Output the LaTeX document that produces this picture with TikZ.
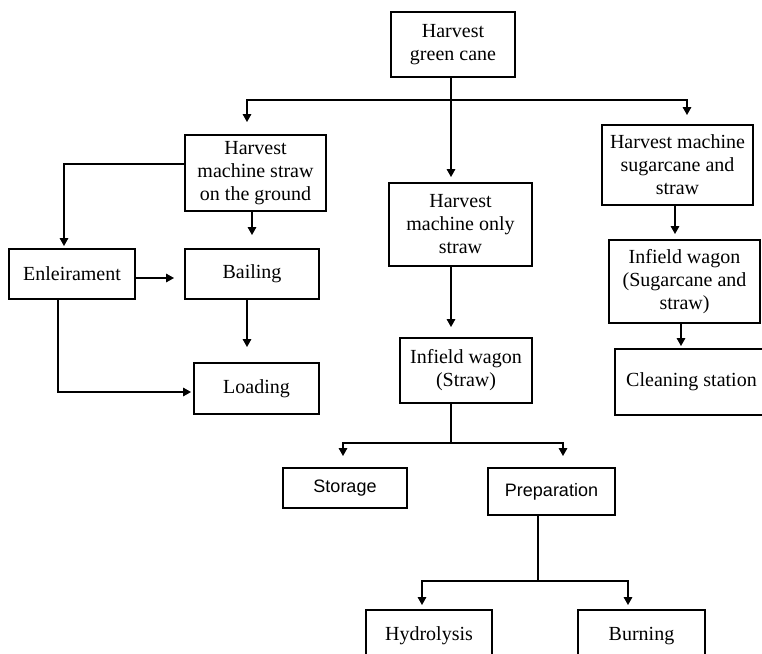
\documentclass[tikz,border=0pt]{standalone}
\usepackage{fontspec}
\setmainfont{Liberation Serif}
\newfontfamily\helv{Liberation Sans}
\usetikzlibrary{arrows.meta}

\tikzset{
  box/.style={draw, line width=1.9pt, inner sep=0pt, align=center,
              font=\fontsize{20}{23}\selectfont},
  sbox/.style={box, font=\helv\fontsize{18}{21}\selectfont},
  arr/.style={line width=1.6pt, -{Triangle[length=8pt,width=8.5pt]}},
  ln/.style={line width=1.6pt}
}

\begin{document}
\begin{tikzpicture}[x=1pt,y=-1pt]

  \useasboundingbox (0,0) rectangle (762,653);
  \clip (0,0) rectangle (762,653);

  %% the boxes
  \node[box, minimum width=124pt, minimum height=65pt] (green)   at (453,44.5)  {Harvest\\green cane};
  \node[box, minimum width=141pt, minimum height=76pt] (ground)  at (255.5,173) {Harvest\\machine straw\\on the ground};
  \node[box, minimum width=143pt, minimum height=83pt] (only)    at (460.5,224.5) {Harvest\\machine only\\straw};
  \node[box, minimum width=151pt, minimum height=80pt] (sugar)   at (677.5,165) {Harvest machine\\sugarcane and\\straw};
  \node[box, minimum width=126pt, minimum height=50pt] (enl)     at (72,274)    {Enleirament};
  \node[box, minimum width=134pt, minimum height=50pt] (bail)    at (252,274)   {Bailing};
  \node[box, minimum width=125pt, minimum height=51pt] (load)    at (256.5,388.5) {Loading};
  \node[box, minimum width=132pt, minimum height=65pt] (wagon)   at (466,370.5) {Infield wagon\\(Straw)};
  \node[box, minimum width=151pt, minimum height=83pt] (wagonsc) at (684.5,281.5) {Infield wagon\\(Sugarcane and\\straw)};
  \node[box, minimum width=153pt, minimum height=66pt] (clean)   at (691.5,382) {Cleaning station};
  \node[sbox, minimum width=124pt, minimum height=40pt] (store)  at (345,488)   {Storage};
  \node[sbox, minimum width=127pt, minimum height=47pt] (prep)   at (551.5,491.5) {Preparation};
  \node[box, minimum width=126pt, minimum height=52pt] (hydro)   at (429,636)   {Hydrolysis};
  \node[box, minimum width=127pt, minimum height=52pt] (burn)    at (641.5,636) {Burning};

  %% first split below the top box
  \coordinate (bus) at ([xshift=-2pt]green.south);
  \draw[ln] (bus) -- ++(0,22) coordinate (fork);
  \draw[arr, shorten >=12pt] (fork) -| ([xshift=-8.5pt]ground.north);
  \draw[arr, shorten >=9pt]  (fork) -| ([xshift=9.5pt]sugar.north);
  \draw[arr, shorten >=5pt]  (fork) -- (fork |- only.north);

  %% straw left on the ground
  \draw[arr, shorten >=2pt]  ([yshift=9pt]ground.west) -| ([xshift=-8pt]enl.north);
  \draw[arr, shorten >=13pt] (bail.north |- ground.south) -- (bail.north);
  \draw[arr, shorten >=10pt] ([yshift=-4pt]enl.east) -- ([yshift=-4pt]bail.west);
  \draw[arr, shorten >=15pt] ([xshift=-5pt]bail.south) -- ([xshift=-5pt]bail.south |- load.north);
  \draw[arr, shorten >=2pt]  ([xshift=-14pt]enl.south) |- ([yshift=-3.5pt]load.west);

  %% only straw
  \draw[arr, shorten >=10pt] (fork |- only.south) -- (fork |- wagon.north);

  %% sugarcane and straw
  \draw[arr, shorten >=5pt] ([xshift=-2.5pt]sugar.south) -- ([xshift=-2.5pt]sugar.south |- wagonsc.north);
  \draw[arr, shorten >=2pt] ([xshift=-3.5pt]wagonsc.south) -- ([xshift=-3.5pt]wagonsc.south |- clean.north);

  %% storage or preparation
  \draw[ln] (fork |- wagon.south) -- ++(0,39) coordinate (fork2);
  \draw[arr, shorten >=11pt] (fork2) -| ([xshift=-2pt]store.north);
  \draw[arr, shorten >=11pt] (fork2) -| ([xshift=11.5pt]prep.north);

  %% hydrolysis or burning
  \draw[ln] ([xshift=-13.5pt]prep.south) -- ++(0,65) coordinate (fork3);
  \draw[arr, shorten >=4pt] (fork3) -| ([xshift=-7pt]hydro.north);
  \draw[arr, shorten >=4pt] (fork3) -| ([xshift=-13.5pt]burn.north);

\end{tikzpicture}
\end{document}
